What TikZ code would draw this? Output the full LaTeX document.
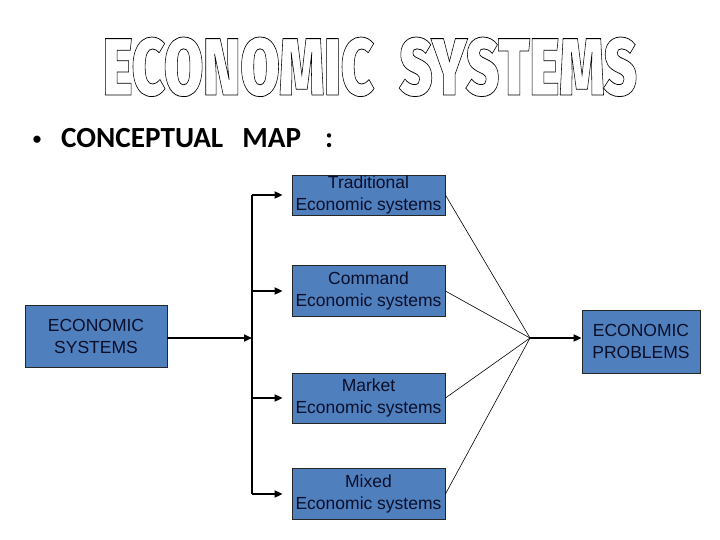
\documentclass[tikz,border=0pt]{standalone}
\usepackage{fontspec}
\usepackage{graphicx}
\setmainfont{Liberation Sans}
\newfontfamily\mapfont{Carlito}
\IfFontExistsTF{Fira Sans Black}{\newfontfamily\titlefont{Fira Sans Black}}{%
  \IfFontExistsTF{Fira Sans Heavy}{\newfontfamily\titlefont{Fira Sans Heavy}}{%
    \newfontfamily\titlefont{DejaVu Sans}[UprightFont=* Bold]}}
\usetikzlibrary{arrows.meta, calc, positioning}
\definecolor{boxblue}{HTML}{4F7FBD}
\definecolor{boxtext}{HTML}{0B0F2A}
\tikzset{
  sysbox/.style  = {draw=black!85, fill=boxblue, line width=0.8pt, text=boxtext,
                    font=\fontsize{17.5}{22}\selectfont, align=center,
                    inner sep=0pt, minimum width=153pt},
  thickarr/.style = {-{Triangle[length=8pt, width=7pt]}, line width=1.8pt},
  spine/.style    = {line width=1.2pt},
  thinln/.style   = {line width=0.6pt},
}
\newcommand{\outlinetext}[1]{%
  \special{pdf:literal direct 1 Tr 0.8 w}#1\special{pdf:literal direct 0 Tr}}
\begin{document}
\begin{tikzpicture}[x=1pt, y=-1pt]
  \useasboundingbox[fill=white] (0,0) rectangle (720,540);
  \node[anchor=base, inner sep=0pt] (title) at (370,95)
    {\resizebox{534pt}{58pt}{\titlefont\fontsize{84}{84}\selectfont\outlinetext{ECONOMIC\ \ SYSTEMS}}};
  \node[inner sep=0pt, font=\mapfont\fontsize{17}{20}\selectfont\bfseries]
    (bullet) at (37,140) {•};
  \node[anchor=base west, inner sep=0pt, font=\mapfont\fontsize{29.2}{30}\selectfont\bfseries]
    (maptitle) at (61,148) {CONCEPTUAL\hspace{19pt}MAP\hspace{24pt}:};
  \node[sysbox, minimum width=142pt, minimum height=62pt] (esys) at (96,336) {ECONOMIC\\SYSTEMS};
  \node[sysbox, minimum height=40pt] (trad) at (368.5,195) {Traditional\\Economic systems};
  \node[sysbox, minimum height=51pt] (cmd) at (368.5,291) {Command\\Economic systems};
  \node[sysbox, minimum height=50pt] (mkt) at (368.5,398) {Market\\Economic systems};
  \node[sysbox, minimum height=51pt] (mix) at (368.5,494) {Mixed\\Economic systems};
  \node[sysbox, minimum width=118pt, minimum height=63pt] (prob) at (641,341.5) {ECONOMIC\\PROBLEMS};
  \coordinate (fork) at (252,338);
  \coordinate (hub) at (530,338);
  \draw[spine] (trad.west -| fork) -- (mix.west -| fork);
  \draw[thickarr] ($(esys.east)+(0,2)$) -- (fork);
  \foreach \b in {trad, cmd, mkt, mix}{
    \draw[thickarr, shorten >=9pt] (\b.west -| fork) -- (\b.west);
    \draw[thinln] (\b.east) -- (hub);
  }
  \draw[thickarr] (hub) -- (prob.west |- hub);
\end{tikzpicture}
\end{document}
